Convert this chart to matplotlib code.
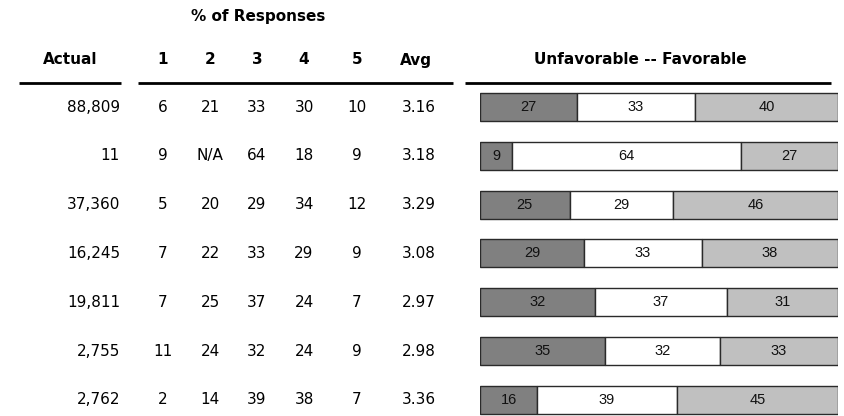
import matplotlib
matplotlib.use("Agg")
import matplotlib.pyplot as plt

# ---- data ----
actual = ["88,809", "11", "37,360", "16,245", "19,811", "2,755", "2,762"]
pct1 = ["6", "9", "5", "7", "7", "11", "2"]
pct2 = ["21", "N/A", "20", "22", "25", "24", "14"]
pct3 = ["33", "64", "29", "33", "37", "32", "39"]
pct4 = ["30", "18", "34", "29", "24", "24", "38"]
pct5 = ["10", "9", "12", "9", "7", "9", "7"]
avg = ["3.16", "3.18", "3.29", "3.08", "2.97", "2.98", "3.36"]
unfavorable = [27, 9, 25, 29, 32, 35, 16]
neutral = [33, 64, 29, 33, 37, 32, 39]
favorable = [40, 27, 46, 38, 31, 33, 45]
col_headers = ["1", "2", "3", "4", "5", "Avg"]

W, H = 844, 416
fig = plt.figure(figsize=(W / 100, H / 100), dpi=100)

row0_px, row_step = 107.0, 48.8
y_top = -row0_px / row_step
y_bot = (H - row0_px) / row_step

def py(p):
    return (p - row0_px) / row_step

tab = fig.add_axes([0, 0, 1, 1])
tab.set_xlim(0, W)
tab.set_ylim(y_bot, y_top)
tab.axis("off")

FONT = "DejaVu Sans"
fs = 11
rows = list(range(len(actual)))

# headers
tab.text(258, py(16), "% of Responses", ha="center", va="center", fontsize=fs,
         fontweight="bold", family=FONT)
tab.text(70, py(60), "Actual", ha="center", va="center", fontsize=fs,
         fontweight="bold", family=FONT)
col_x = [163, 210, 257, 304, 357, 416]
for x, h in zip(col_x, col_headers):
    tab.text(x, py(60), h, ha="center", va="center", fontsize=fs,
             fontweight="bold", family=FONT)
tab.text(640, py(60), "Unfavorable -- Favorable", ha="center", va="center",
         fontsize=fs, fontweight="bold", family=FONT)

# rule lines
for x0, x1 in [(19, 121), (138, 453), (465, 831)]:
    tab.plot([x0, x1], [py(82.5), py(82.5)], color="black", lw=2,
             solid_capstyle="butt")

# table values
cols = [pct1, pct2, pct3, pct4, pct5]
for r in rows:
    tab.text(120, r, actual[r], ha="right", va="center", fontsize=fs, family=FONT)
    for x, c in zip(col_x[:5], cols):
        tab.text(x, r, c[r], ha="center", va="center", fontsize=fs, family=FONT)
    tab.text(col_x[5] + 3, r, avg[r], ha="center", va="center", fontsize=fs,
             family=FONT)

# stacked bars
bx = fig.add_axes([480 / W, 0, 358 / W, 1])
bx.set_xlim(0, 100)
bx.set_ylim(y_bot, y_top)
bx.axis("off")
bh = 28 / row_step
left2 = [u for u in unfavorable]
left3 = [u + n for u, n in zip(unfavorable, neutral)]
segs = [(unfavorable, [0] * len(rows), "#808080"),
        (neutral, left2, "#ffffff"),
        (favorable, left3, "#c0c0c0")]
for vals, lefts, col in segs:
    bars = bx.barh(rows, vals, left=lefts, height=bh, color=col,
                   edgecolor="#2a2a2a", linewidth=1)
    for b, v in zip(bars, vals):
        bx.text(b.get_x() + b.get_width() / 2, b.get_y() + b.get_height() / 2,
                str(v), ha="center", va="center", fontsize=10.5,
                family="Liberation Sans", color="#111111")

fig.savefig("out.png", dpi=100)
